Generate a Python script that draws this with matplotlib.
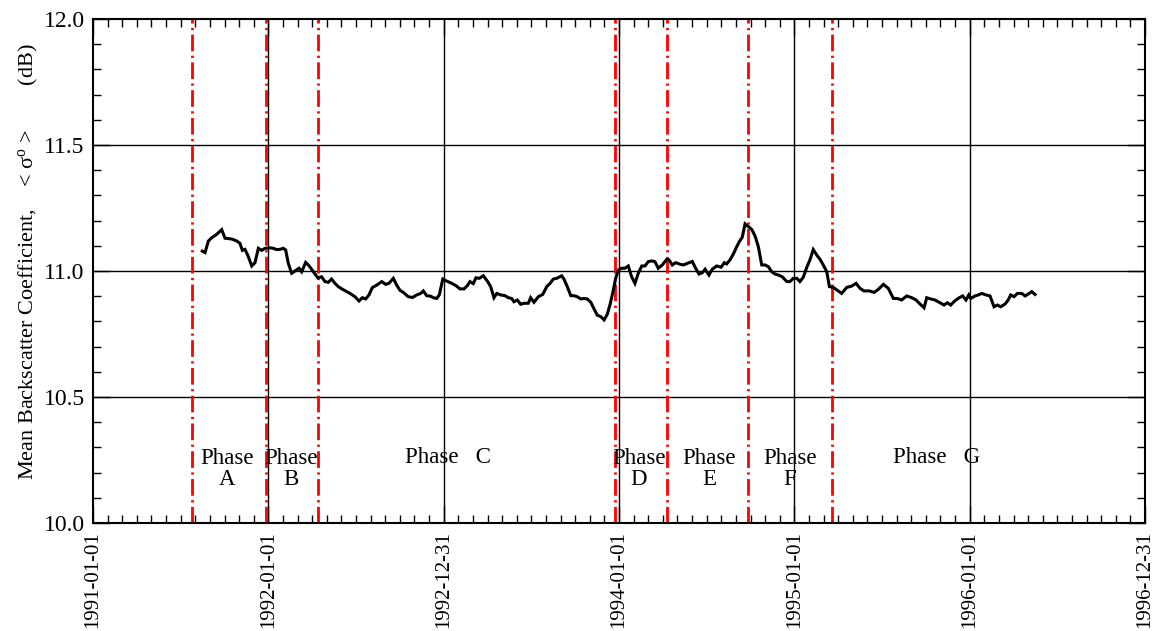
import matplotlib
matplotlib.use("Agg")
import matplotlib.pyplot as plt
from matplotlib.ticker import MultipleLocator, FixedLocator
import numpy as np

# ---- data (decimal year, dB) ----
years = [
    1991.623, 1991.639, 1991.658, 1991.677, 1991.706, 1991.734, 1991.753, 1991.791, 1991.820, 1991.838,
    1991.852, 1991.867, 1991.886, 1991.905, 1991.924, 1991.943, 1991.962, 1991.981, 1992.010, 1992.028,
    1992.048, 1992.067, 1992.085, 1992.099, 1992.114, 1992.133, 1992.152, 1992.175, 1992.190, 1992.213,
    1992.232, 1992.257, 1992.282, 1992.304, 1992.323, 1992.342, 1992.361, 1992.380, 1992.399, 1992.419,
    1992.447, 1992.466, 1992.494, 1992.517, 1992.536, 1992.555, 1992.574, 1992.593, 1992.618, 1992.647,
    1992.669, 1992.688, 1992.713, 1992.732, 1992.751, 1992.770, 1992.798, 1992.823, 1992.846, 1992.869,
    1992.884, 1992.903, 1992.926, 1992.941, 1992.960, 1992.975, 1992.995, 1993.017, 1993.046, 1993.070,
    1993.093, 1993.116, 1993.135, 1993.150, 1993.169, 1993.184, 1993.203, 1993.226, 1993.249, 1993.268,
    1993.287, 1993.303, 1993.325, 1993.350, 1993.369, 1993.388, 1993.401, 1993.420, 1993.439, 1993.458,
    1993.483, 1993.496, 1993.515, 1993.540, 1993.565, 1993.588, 1993.607, 1993.625, 1993.645, 1993.673,
    1993.686, 1993.705, 1993.725, 1993.743, 1993.762, 1993.782, 1993.800, 1993.819, 1993.839, 1993.858,
    1993.876, 1993.896, 1993.915, 1993.933, 1993.949, 1993.968, 1993.981, 1993.996, 1994.015, 1994.034,
    1994.053, 1994.072, 1994.091, 1994.110, 1994.130, 1994.148, 1994.167, 1994.187, 1994.205, 1994.224,
    1994.247, 1994.272, 1994.285, 1994.304, 1994.323, 1994.348, 1994.367, 1994.392, 1994.418, 1994.434,
    1994.456, 1994.475, 1994.491, 1994.513, 1994.532, 1994.557, 1994.582, 1994.601, 1994.614, 1994.633,
    1994.652, 1994.671, 1994.686, 1994.703, 1994.719, 1994.738, 1994.757, 1994.776, 1994.795, 1994.814,
    1994.833, 1994.852, 1994.871, 1994.890, 1994.913, 1994.931, 1994.957, 1994.975, 1994.994, 1995.014,
    1995.032, 1995.051, 1995.071, 1995.089, 1995.108, 1995.128, 1995.147, 1995.165, 1995.185, 1995.200,
    1995.222, 1995.242, 1995.270, 1995.299, 1995.327, 1995.352, 1995.375, 1995.397, 1995.428, 1995.455,
    1995.479, 1995.508, 1995.536, 1995.565, 1995.587, 1995.612, 1995.641, 1995.670, 1995.694, 1995.717,
    1995.740, 1995.755, 1995.778, 1995.802, 1995.831, 1995.854, 1995.873, 1995.892, 1995.916, 1995.941,
    1995.960, 1995.979, 1995.995, 1996.006, 1996.031, 1996.049, 1996.069, 1996.093, 1996.116, 1996.139,
    1996.158, 1996.177, 1996.202, 1996.220, 1996.234, 1996.253, 1996.272, 1996.297, 1996.316, 1996.335,
    1996.354, 1996.373,
]
sigma0_db = [
    11.079, 11.073, 11.119, 11.132, 11.146, 11.164, 11.130, 11.127, 11.119, 11.110,
    11.082, 11.086, 11.057, 11.020, 11.033, 11.090, 11.082, 11.090, 11.092, 11.090,
    11.085, 11.086, 11.090, 11.083, 11.030, 10.991, 11.000, 11.011, 10.997, 11.034,
    11.021, 10.997, 10.973, 10.977, 10.958, 10.955, 10.968, 10.951, 10.938, 10.929,
    10.918, 10.911, 10.898, 10.881, 10.894, 10.889, 10.905, 10.934, 10.944, 10.958,
    10.947, 10.951, 10.971, 10.944, 10.923, 10.915, 10.898, 10.895, 10.905, 10.911,
    10.921, 10.902, 10.900, 10.894, 10.891, 10.905, 10.968, 10.960, 10.951, 10.942,
    10.929, 10.929, 10.942, 10.958, 10.950, 10.973, 10.971, 10.981, 10.960, 10.938,
    10.894, 10.911, 10.905, 10.902, 10.894, 10.891, 10.878, 10.885, 10.868, 10.872,
    10.872, 10.894, 10.876, 10.898, 10.907, 10.938, 10.951, 10.968, 10.971, 10.981,
    10.968, 10.938, 10.902, 10.902, 10.898, 10.889, 10.891, 10.889, 10.876, 10.849,
    10.825, 10.819, 10.806, 10.828, 10.867, 10.925, 10.971, 11.004, 11.011, 11.011,
    11.020, 10.977, 10.951, 10.991, 11.020, 11.020, 11.037, 11.040, 11.037, 11.011,
    11.024, 11.046, 11.044, 11.024, 11.033, 11.027, 11.024, 11.031, 11.038, 11.015,
    10.988, 10.993, 11.007, 10.984, 11.007, 11.020, 11.015, 11.033, 11.028, 11.044,
    11.067, 11.096, 11.116, 11.134, 11.187, 11.176, 11.165, 11.139, 11.096, 11.024,
    11.024, 11.017, 10.997, 10.988, 10.983, 10.977, 10.958, 10.958, 10.971, 10.971,
    10.958, 10.975, 11.015, 11.044, 11.085, 11.063, 11.046, 11.024, 10.997, 10.938,
    10.935, 10.925, 10.911, 10.935, 10.940, 10.951, 10.931, 10.921, 10.921, 10.915,
    10.927, 10.947, 10.931, 10.891, 10.891, 10.885, 10.901, 10.894, 10.885, 10.869,
    10.854, 10.894, 10.889, 10.885, 10.874, 10.865, 10.874, 10.865, 10.882, 10.894,
    10.901, 10.885, 10.905, 10.891, 10.901, 10.905, 10.911, 10.905, 10.901, 10.858,
    10.865, 10.858, 10.869, 10.885, 10.905, 10.898, 10.911, 10.911, 10.901, 10.909,
    10.918, 10.907,
]

phase_bounds = [1991.563, 1991.987, 1992.285, 1993.977, 1994.272, 1994.737, 1995.217]

phase_labels = ["Phase\nA", "Phase\nB", "Phase   C", "Phase\nD", "Phase\nE", "Phase\nF", "Phase   G"]
phase_label_x = [1991.764, 1992.129, 1993.025, 1994.114, 1994.513, 1994.975, 1995.814]

xtick_pos = [1991, 1992, 1993, 1994, 1995, 1996, 1997]
xtick_labels = ["1991-01-01", "1992-01-01", "1992-12-31", "1994-01-01",
                "1995-01-01", "1996-01-01", "1996-12-31"]

# ---- style ----
plt.rcParams["font.family"] = ["Liberation Serif", "DejaVu Serif"]
plt.rcParams["mathtext.fontset"] = "custom"
plt.rcParams["mathtext.rm"] = "Liberation Serif"
plt.rcParams["mathtext.it"] = "Liberation Serif:italic"
FS_XT = 15
FS_YT = 17
FS_PH = 16.5
FS_YL = 16

fig = plt.figure(figsize=(11.54, 6.31), dpi=100)
ax = fig.add_axes([93 / 1154, (631 - 523) / 631, 1052 / 1154, 504 / 631])

ax.set_xlim(1991, 1997)
ax.set_ylim(10.0, 12.0)

# grid lines at major ticks
for gx in xtick_pos[1:-1]:
    ax.axvline(gx, color="black", lw=1.0, zorder=1)
for gy in [10.5, 11.0, 11.5]:
    ax.axhline(gy, color="black", lw=1.0, zorder=1)

# phase boundaries
for b in phase_bounds:
    ax.axvline(b, color="#ff0000", lw=2.0, linestyle=(0, (6, 1.6, 0.8, 1.6)), zorder=2)

# data line
ax.plot(years, sigma0_db, color="black", lw=2.2, zorder=3, solid_joinstyle="miter")

# phase labels
for lab, px in zip(phase_labels, phase_label_x):
    if "\n" in lab:
        ax.text(px, 10.214, lab, ha="center", va="center", fontsize=FS_PH,
                linespacing=0.95, multialignment="center", zorder=4)
    else:
        ax.text(px, 10.258, lab, ha="center", va="center", fontsize=FS_PH, zorder=4)

# ticks
ax.xaxis.set_major_locator(FixedLocator(xtick_pos))
ax.set_xticklabels(xtick_labels, rotation=90, fontsize=FS_XT)
ax.xaxis.set_minor_locator(MultipleLocator(1 / 12))
ax.yaxis.set_major_locator(MultipleLocator(0.5))
ax.yaxis.set_minor_locator(MultipleLocator(0.1))
ax.yaxis.set_major_formatter(matplotlib.ticker.FormatStrFormatter("%.1f"))
ax.tick_params(axis="both", which="both", direction="in", top=True, right=True)
ax.tick_params(axis="both", which="major", length=12, width=1.0)
ax.tick_params(axis="both", which="minor", length=6, width=1.0)
ax.tick_params(axis="x", which="major", pad=6, labelsize=FS_XT)
ax.tick_params(axis="y", which="major", pad=6, labelsize=FS_YT)

for s in ax.spines.values():
    s.set_linewidth(1.5)

ax.set_ylabel("Mean Backscatter Coefficient,    < σ$^{\\mathrm{o}}$ >        (dB)",
              fontsize=FS_YL, labelpad=10)
ax.yaxis.set_label_coords(-0.05, 0.518)

fig.savefig("out.png", dpi=100)
